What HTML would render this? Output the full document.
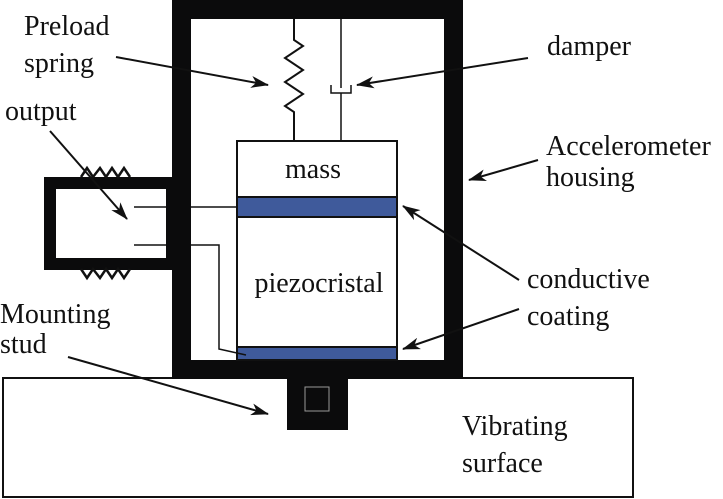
<!DOCTYPE html>
<html><head><style>
html,body{margin:0;padding:0;background:#fff;}
svg{display:block;}
</style></head><body>
<svg width="723" height="499" viewBox="0 0 723 499">
<defs>
<marker id="a" markerWidth="18" markerHeight="12" refX="17" refY="6" orient="auto" markerUnits="userSpaceOnUse">
<path d="M0,0 L18,6 L0,12 L5,6 Z" fill="#111"/>
</marker>
</defs>
<!-- base -->
<rect x="3" y="378" width="630" height="119" fill="#fff" stroke="#111" stroke-width="2"/>
<!-- housing -->
<rect x="181.5" y="9.5" width="272" height="360" fill="none" stroke="#0b0b0c" stroke-width="19"/>
<!-- stud -->
<rect x="287" y="370" width="61" height="60" fill="#0b0b0c"/>
<rect x="305" y="387" width="24" height="24" fill="#0b0b0c" stroke="#999" stroke-width="1"/>
<!-- output box -->
<rect x="50" y="183" width="122" height="81" fill="#fff" stroke="#0b0b0c" stroke-width="12"/>
<polyline points="81,177 87,168 93,177 100,168 106,177 112,168 118,177 124,168 130,177" fill="none" stroke="#111" stroke-width="2.5"/>
<polyline points="81,269 87,278 93,269 100,278 106,269 112,278 118,269 124,278 130,269" fill="none" stroke="#111" stroke-width="2.5"/>
<!-- mass & piezo -->
<rect x="237" y="141" width="160" height="219" fill="#fff" stroke="#111" stroke-width="2"/>
<rect x="237" y="197" width="160" height="20" fill="#3f5a9b" stroke="#111" stroke-width="2"/>
<rect x="237" y="347" width="160" height="13" fill="#3f5a9b" stroke="#111" stroke-width="2"/>
<!-- wires -->
<line x1="134" y1="207" x2="166" y2="207" stroke="#111" stroke-width="1.5"/>
<line x1="191" y1="207" x2="237" y2="207" stroke="#111" stroke-width="1.5"/>
<line x1="134" y1="245" x2="166" y2="245" stroke="#111" stroke-width="1.5"/>
<polyline points="191,245 219,245 219,349 246,355" fill="none" stroke="#111" stroke-width="1.5"/>
<!-- spring -->
<polyline points="294,19 294,40 303,46 285,58 303,70 285,82 303,94 285,106 294,112 294,141" fill="none" stroke="#111" stroke-width="2"/>
<!-- damper -->
<line x1="341" y1="19" x2="341" y2="88" stroke="#111" stroke-width="1.5"/>
<polyline points="331,85 331,93 351,93 351,85" fill="none" stroke="#111" stroke-width="1.5"/>
<line x1="341" y1="93" x2="341" y2="141" stroke="#111" stroke-width="1.5"/>
<!-- arrows -->
<g stroke="#111" stroke-width="2" fill="none" marker-end="url(#a)">
<line x1="116" y1="57" x2="268" y2="85"/>
<line x1="528" y1="58" x2="357" y2="85"/>
<line x1="538" y1="160" x2="469" y2="180"/>
<line x1="519" y1="280" x2="403" y2="206"/>
<line x1="519" y1="309" x2="403" y2="349"/>
<line x1="50" y1="131" x2="127" y2="219"/>
<line x1="68" y1="357" x2="268" y2="414"/>
</g>
<!-- labels -->
<g font-family="Liberation Serif, Times New Roman, serif" font-size="28" fill="#111">
<text x="24" y="35">Preload</text>
<text x="24" y="72">spring</text>
<text x="5" y="120">output</text>
<text x="547" y="55">damper</text>
<text x="546" y="155">Accelerometer</text>
<text x="546" y="186">housing</text>
<text x="527" y="288">conductive</text>
<text x="527" y="325">coating</text>
<text x="0" y="323">Mounting</text>
<text x="0" y="353">stud</text>
<text x="462" y="435">Vibrating</text>
<text x="462" y="472">surface</text>
<text x="313" y="178" text-anchor="middle">mass</text>
<text x="319" y="292" text-anchor="middle">piezocristal</text>
</g>
</svg>
</body></html>
